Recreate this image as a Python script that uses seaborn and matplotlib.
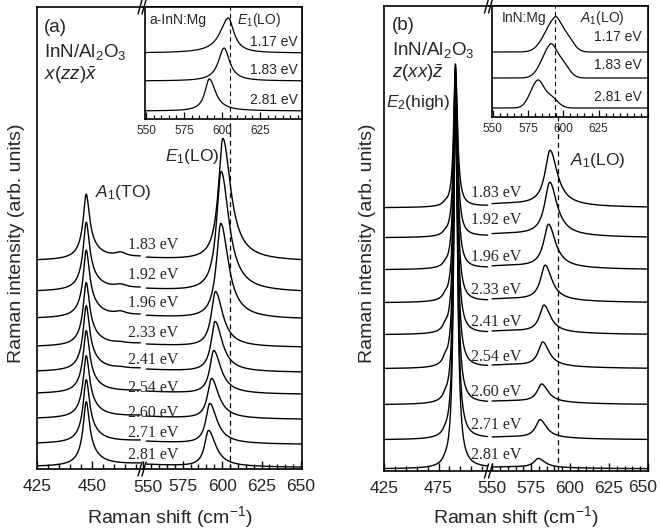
import numpy as np
import pandas as pd
import matplotlib
matplotlib.use("Agg")
import matplotlib.pyplot as plt
import seaborn as sns
from matplotlib.ticker import FixedLocator, NullLocator
from matplotlib.lines import Line2D

sns.set_style("ticks")
plt.rcParams["font.family"] = ["Liberation Sans", "DejaVu Sans"]
plt.rcParams["mathtext.fontset"] = "custom"
plt.rcParams["mathtext.rm"] = "Liberation Sans"
plt.rcParams["mathtext.it"] = "Liberation Sans:italic"
plt.rcParams["mathtext.bf"] = "Liberation Sans:bold"

# ---------------- data ----------------
energies = ["1.83 eV", "1.92 eV", "1.96 eV", "2.33 eV", "2.41 eV",
            "2.54 eV", "2.60 eV", "2.71 eV", "2.81 eV"]

# panel (a): x(zz)x-bar
a_offset = [207, 176, 149, 121, 96, 74, 49, 24, 1]
a_ato_pos = [447.4, 447.4, 447.4, 447.4, 447.4, 447.4, 447.4, 447.4, 447.4]
a_ato_height = [65, 68, 67, 63, 65, 62, 62, 63, 64]
a_bump_height = [4, 3, 3, 1, 1, 0, 0, 0, 0]
a_bump_pos = 463
a_e1lo_pos = [600.5, 599.4, 599.2, 595.8, 595.6, 594.7, 593.3, 592.2, 591.4]
a_e1lo_height = [122, 120, 95, 55, 50, 43, 40, 40, 36]
a_e1lo_gl = [3.5, 3.5, 3.4, 3.2, 3.1, 3.0, 3.0, 3.0, 3.0]
a_e1lo_gr = [6.0, 6.0, 5.8, 5.6, 5.5, 5.5, 5.5, 5.5, 5.5]
a_background = [8, 8, 8, 7, 7, 7, 7, 7, 7]
a_dashed = 605

# panel (b): z(xx)z-bar
b_offset = [263, 233, 201, 168, 136, 102, 66, 31, 2]
b_e2_pos = 490.5
b_e2_height = [143, 170, 198, 227, 255, 285, 317, 348, 373]
b_shoulder_pos = 481
b_shoulder_height = [2, 2, 2, 3, 4, 5, 3, 2, 2]
b_a1lo_pos = [587.2, 587.0, 586.2, 584.0, 583.3, 582.5, 581.8, 580.8, 579.7]
b_a1lo_height = [55, 53, 43, 35, 27, 24, 18, 18, 9]
b_a1lo_gl = [4.0, 4.0, 3.8, 3.6, 3.5, 3.5, 3.5, 3.5, 3.5]
b_a1lo_gr = [5.6, 5.6, 5.4, 5.2, 5.0, 5.0, 5.0, 5.0, 5.0]
b_background = [4, 4, 4, 4, 4, 4, 4, 3, 2]
b_dashed = 592

# inset (a): a-InN:Mg
ia_labels = ["1.17 eV", "1.83 eV", "2.81 eV"]
ia_offset = [66, 38, 8]
ia_pos = [604.1, 601.3, 591.6]
ia_height = [35, 33, 32]
ia_gl = [6.5, 4.5, 3.5]
ia_gr = [4.5, 4.5, 5.0]
ia_dashed = 605

# inset (b): InN:Mg
ib_labels = ["1.17 eV", "1.83 eV", "2.81 eV"]
ib_offset = [65, 39, 9]
ib_pos = [593.6, 590.5, 581.6]
ib_height = [34, 33, 29]
ib_sl = [7.0, 6.0, 5.0]
ib_sr = [4.0, 4.0, 4.0]
ib_shoulder_shift = [8, 8, 9]
ib_shoulder_amp = [0.5, 0.5, 0.4]
ib_dashed = 594


def lor(x, x0, h, gl, gr):
    g = np.where(x < x0, gl, gr)
    return h / (1.0 + ((x - x0) / g) ** 2)


def gau(x, x0, h, sl, sr):
    s = np.where(x < x0, sl, sr)
    return h * np.exp(-0.5 * ((x - x0) / s) ** 2)


def draw(ax, x, ys, labels, lw=1.0):
    df = pd.concat([pd.DataFrame({"x": x, "y": y, "s": lab})
                    for y, lab in zip(ys, labels)], ignore_index=True)
    sns.lineplot(data=df, x="x", y="y", hue="s", palette=["black"] * len(labels),
                 legend=False, ax=ax, lw=lw, estimator=None, sort=False)
    ax.set_xlabel("")
    ax.set_ylabel("")


# ---------------- figure ----------------
W, H = 660, 532
fig = plt.figure(figsize=(6.6, 5.32), dpi=100)


def rect(x0, y0, x1, y1):
    return [x0 / W, 1 - y1 / H, (x1 - x0) / W, (y1 - y0) / H]


def ftext(x, y, s, **kw):
    fig.text(x / W, 1 - y / H, s, **kw)


def brk(x, y):
    for dx in (-2.5, 1.5):
        fig.add_artist(Line2D([(x + dx - 2) / W, (x + dx + 2) / W],
                              [1 - (y + 7) / H, 1 - (y - 7) / H],
                              transform=fig.transFigure, color="black", lw=1.0))


def style_main(ax, side):
    for sp in ax.spines.values():
        sp.set_linewidth(1.2)
        sp.set_color("black")
    if side == "L":
        ax.spines["right"].set_visible(False)
    else:
        ax.spines["left"].set_visible(False)
    ax.yaxis.set_major_locator(NullLocator())
    ax.tick_params(axis="x", which="both", direction="in", bottom=True, top=False,
                   labelsize=12.5, pad=7, width=1.0, color="black")
    ax.tick_params(axis="x", which="major", length=6)
    ax.tick_params(axis="x", which="minor", length=3.5)
    ax.tick_params(axis="y", left=False, right=False)


def style_inset(ax):
    for sp in ax.spines.values():
        sp.set_linewidth(1.2)
        sp.set_color("black")
    ax.set_facecolor("white")
    ax.yaxis.set_major_locator(NullLocator())
    ax.xaxis.set_major_locator(FixedLocator([550, 575, 600, 625]))
    ax.xaxis.set_minor_locator(FixedLocator(np.arange(550, 661, 5)))
    ax.tick_params(axis="x", which="both", direction="in", labelsize=8.5, pad=4,
                   width=0.9, color="black")
    ax.tick_params(axis="x", which="major", length=5)
    ax.tick_params(axis="x", which="minor", length=3)
    ax.tick_params(axis="y", left=False, right=False)


serif = ["Liberation Serif", "DejaVu Serif"]

# ===== panel (a) =====
aL = fig.add_axes(rect(37, 7, 142.5, 469))
aR = fig.add_axes(rect(142.5, 7, 302, 469))
xaL = np.arange(425, 472.01, 0.1)
xaR = np.arange(552, 650.6, 0.1)
ysL, ysR = [], []
for i in range(len(energies)):
    bgL = a_background[i] / (1 + ((xaL - 510) / 45) ** 2)
    bgR = a_background[i] / (1 + ((xaR - 510) / 45) ** 2)
    yl = (a_offset[i] + bgL
          + lor(xaL, a_ato_pos[i], 0.75 * a_ato_height[i], 1.5, 1.7)
          + lor(xaL, a_ato_pos[i], 0.25 * a_ato_height[i], 3.5, 5.5)
          + lor(xaL, a_bump_pos, a_bump_height[i], 3.0, 3.0))
    yr = (a_offset[i] + bgR
          + lor(xaR, a_e1lo_pos[i], a_e1lo_height[i], a_e1lo_gl[i], a_e1lo_gr[i]))
    ysL.append(yl)
    ysR.append(yr)
draw(aL, xaL, ysL, energies)
draw(aR, xaR, ysR, energies)
aL.set_xlim(425, 473)
aR.set_xlim(549.6, 650.6)
for ax in (aL, aR):
    ax.set_ylim(0, 462)
aL.xaxis.set_major_locator(FixedLocator([425, 450]))
aL.xaxis.set_minor_locator(FixedLocator(np.arange(425, 473, 5)))
aR.xaxis.set_major_locator(FixedLocator([550, 575, 600, 625, 650]))
aR.set_xticklabels(["", "575", "600", "625", "650"])
aR.xaxis.set_minor_locator(FixedLocator(np.arange(550, 651, 5)))
style_main(aL, "L")
style_main(aR, "R")
aR.axvline(a_dashed, color="black", lw=0.9, ls=(0, (4, 3)))
ftext(148, 488, "550", fontsize=12.5, ha="center", va="center")

for lab, yc in zip(energies, [245, 275, 303, 333, 360, 388, 413, 433, 455]):
    ftext(153, yc, lab, fontsize=11.5, family=serif, ha="center", va="center")

ftext(44, 27, "(a)", fontsize=13.5, ha="left", va="center")
ftext(44, 52, "InN/Al$_2$O$_3$", fontsize=13.5, ha="left", va="center")
ftext(44, 75, r"$x(zz)\bar{x}$", fontsize=13.5, ha="left", va="center")
ftext(95, 193, "$A_1$(TO)", fontsize=12.5, ha="left", va="center")
ftext(165, 157, "$E_1$(LO)", fontsize=12.5, ha="left", va="center")
ftext(17, 243, "Raman intensity (arb. units)", fontsize=14, rotation=90,
      ha="center", va="center")
ftext(169.5, 517, "Raman shift (cm$^{-1}$)", fontsize=14, ha="center", va="center")
brk(142.5, 7)
brk(142.5, 469)

# inset (a)
ia = fig.add_axes(rect(145, 7, 302, 119))
xia = np.arange(549.3, 652.6, 0.1)
ysia = [ia_offset[i] + lor(xia, ia_pos[i], ia_height[i], ia_gl[i], ia_gr[i])
        for i in range(3)]
draw(ia, xia, ysia, ia_labels, lw=0.9)
ia.set_xlim(549.3, 652.6)
ia.set_ylim(0, 112)
style_inset(ia)
ia.axvline(ia_dashed, color="black", lw=0.8, ls=(0, (4, 3)))
ftext(149, 20, "a-InN:Mg", fontsize=10, ha="left", va="center")
ftext(237, 20, "$E_1$(LO)", fontsize=10, ha="left", va="center")
for lab, yc in zip(ia_labels, [42, 70, 100]):
    ftext(298, yc, lab, fontsize=10, ha="right", va="center")

# ===== panel (b) =====
bL = fig.add_axes(rect(384, 6, 489, 471))
bR = fig.add_axes(rect(489, 6, 648, 471))
xbL = np.arange(425, 520.01, 0.05)
xbR = np.arange(550, 650.01, 0.1)
ysL, ysR = [], []
for i in range(len(energies)):
    bgL = b_background[i] / (1 + ((xbL - 560) / 40) ** 2)
    bgR = b_background[i] / (1 + ((xbR - 560) / 40) ** 2)
    yl = (b_offset[i] + bgL
          + lor(xbL, b_e2_pos, b_e2_height[i], 1.9, 2.2)
          + lor(xbL, b_shoulder_pos, b_shoulder_height[i], 2.5, 2.5))
    yr = (b_offset[i] + bgR
          + lor(xbR, b_a1lo_pos[i], b_a1lo_height[i], b_a1lo_gl[i], b_a1lo_gr[i]))
    ysL.append(yl)
    ysR.append(yr)
draw(bL, xbL, ysL, energies)
draw(bR, xbR, ysR, energies)
bL.set_xlim(425, 521.3)
bR.set_xlim(548, 650)
for ax in (bL, bR):
    ax.set_ylim(0, 465)
bL.xaxis.set_major_locator(FixedLocator([425, 475]))
bL.xaxis.set_minor_locator(FixedLocator(np.arange(425, 522, 10)))
bR.xaxis.set_major_locator(FixedLocator([550, 575, 600, 625, 650]))
bR.set_xticklabels(["550", "575", "600", "625", ""])
bR.xaxis.set_minor_locator(FixedLocator(np.arange(550, 651, 5)))
style_main(bL, "L")
style_main(bR, "R")
bR.axvline(b_dashed, color="black", lw=0.9, ls=(0, (4, 3)))
ftext(643, 488, "650", fontsize=12.5, ha="center", va="center")

for lab, yc in zip(energies, [193, 220, 257, 290, 322, 357, 392, 425, 455]):
    ftext(496, yc, lab, fontsize=11.5, family=serif, ha="center", va="center")

ftext(392, 25, "(b)", fontsize=13.5, ha="left", va="center")
ftext(392, 50, "InN/Al$_2$O$_3$", fontsize=13.5, ha="left", va="center")
ftext(392, 73, r"$z(xx)\bar{z}$", fontsize=13.5, ha="left", va="center")
ftext(386, 103, "$E_2$(high)", fontsize=12.5, ha="left", va="center")
ftext(570, 160, "$A_1$(LO)", fontsize=12.5, ha="left", va="center")
ftext(367, 243, "Raman intensity (arb. units)", fontsize=14, rotation=90,
      ha="center", va="center")
ftext(516, 517, "Raman shift (cm$^{-1}$)", fontsize=14, ha="center", va="center")
brk(489, 6)
brk(489, 471)

# inset (b)
ib = fig.add_axes(rect(492, 6, 648, 117))
xib = np.arange(549.5, 660, 0.1)
ysib = [ib_offset[i]
        + gau(xib, ib_pos[i], ib_height[i] * 0.88, ib_sl[i], ib_sr[i])
        + gau(xib, ib_pos[i] + ib_shoulder_shift[i],
              ib_height[i] * ib_shoulder_amp[i], 5.0, 5.0)
        for i in range(3)]
draw(ib, xib, ysib, ib_labels, lw=0.9)
ib.set_xlim(549.5, 660)
ib.set_ylim(0, 111)
style_inset(ib)
ib.axvline(ib_dashed, color="black", lw=0.8, ls=(0, (4, 3)))
ftext(502, 18, "InN:Mg", fontsize=10, ha="left", va="center")
ftext(580, 18, "$A_1$(LO)", fontsize=10, ha="left", va="center")
for lab, yc in zip(ib_labels, [37, 65, 97]):
    ftext(642, yc, lab, fontsize=10, ha="right", va="center")

fig.savefig("out.png", dpi=100)
